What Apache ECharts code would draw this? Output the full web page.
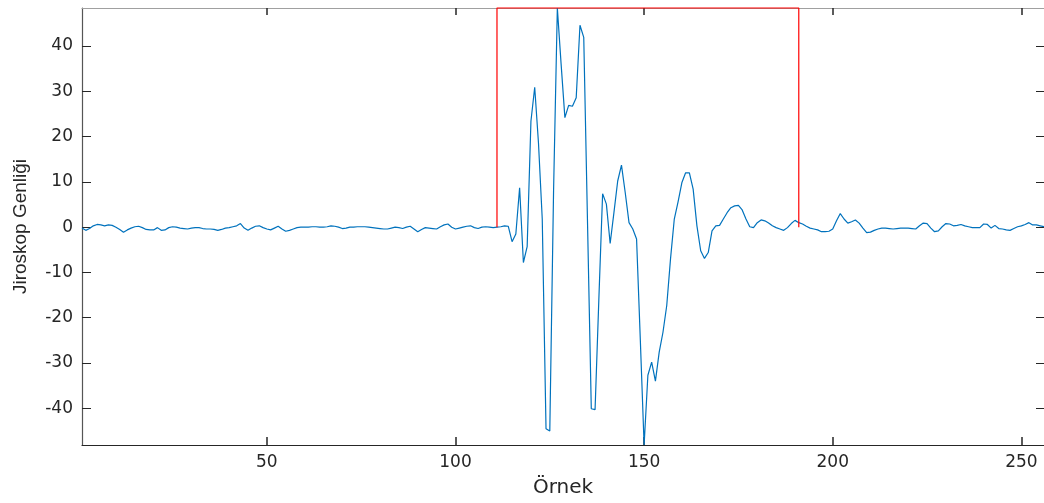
<!DOCTYPE html>
<html>
<head>
<meta charset="utf-8">
<script src="https://cdn.jsdelivr.net/npm/echarts@6/dist/echarts.min.js"></script>
<style>
  html, body { margin: 0; padding: 0; background: #fff; }
  #chart { width: 1044px; height: 503px; }
</style>
</head>
<body>
<div id="chart"></div>
<script>
// gyro samples 1..256
const gyro = [
  -0.2, -0.7, -0.3, 0.3, 0.6, 0.5, 0.3, 0.5, 0.4, 0.0,
  -0.5, -1.1, -0.6, -0.2, 0.1, 0.2, -0.1, -0.5, -0.6, -0.6,
  -0.1, -0.7, -0.6, -0.1, 0.1, 0.0, -0.2, -0.3, -0.4, -0.2,
  -0.1, -0.1, -0.3, -0.4, -0.4, -0.5, -0.7, -0.5, -0.2, -0.1,
  0.1, 0.3, 0.8, -0.2, -0.7, -0.2, 0.2, 0.3, -0.1, -0.4,
  -0.6, -0.2, 0.2, -0.4, -0.9, -0.7, -0.4, -0.1, 0.0, 0.0,
  0.0, 0.1, 0.1, 0.0, 0.0, 0.1, 0.3, 0.2, 0.0, -0.3,
  -0.2, 0.0, 0.0, 0.1, 0.1, 0.1, 0.0, -0.1, -0.2, -0.3,
  -0.4, -0.4, -0.2, 0.0, -0.1, -0.3, 0.0, 0.2, -0.4, -1.0,
  -0.5, -0.1, -0.2, -0.3, -0.4, 0.1, 0.5, 0.7, 0.0, -0.4,
  -0.2, 0.0, 0.2, 0.3, -0.1, -0.3, 0.0, 0.1, 0.0, -0.1,
  0.0, 0.1, 0.3, 0.2, -3.2, -1.5, 8.7, -7.8, -4.3, 23.4,
  30.9, 18.6, 1.8, -44.5, -45.0, 8.0, 48.4, 36.0, 24.2, 26.9,
  26.7, 28.6, 44.6, 41.9, 1.0, -40.1, -40.3, -16.0, 7.4, 5.1,
  -3.6, 3.2, 10.2, 13.7, 7.6, 1.0, -0.4, -2.6, -25.0, -48.1,
  -32.7, -29.8, -34.0, -27.6, -23.2, -17.3, -7.0, 1.8, 5.6, 9.8,
  12.0, 12.0, 8.4, 0.3, -5.2, -6.9, -5.6, -0.8, 0.3, 0.4,
  1.8, 3.2, 4.3, 4.7, 4.8, 3.8, 1.8, 0.1, -0.1, 1.0,
  1.6, 1.4, 0.9, 0.3, -0.1, -0.4, -0.7, -0.1, 0.8, 1.5,
  1.0, 0.7, 0.2, -0.2, -0.4, -0.6, -1.0, -1.0, -0.9, -0.4,
  1.4, 3.0, 1.8, 0.9, 1.2, 1.6, 0.9, -0.2, -1.2, -1.1,
  -0.7, -0.4, -0.2, -0.2, -0.3, -0.4, -0.3, -0.2, -0.2, -0.2,
  -0.3, -0.4, 0.3, 0.9, 0.8, -0.2, -1.0, -0.8, 0.1, 0.8,
  0.7, 0.3, 0.4, 0.6, 0.3, 0.1, -0.1, -0.1, -0.1, 0.7,
  0.6, -0.2, 0.4, -0.3, -0.4, -0.6, -0.7, -0.3, 0.1, 0.3,
  0.6, 1.0, 0.5, 0.5, 0.3, 0.1
];
const xTicks = [50, 100, 150, 200, 250];
const yTicks = [-40, -30, -20, -10, 0, 10, 20, 30, 40];
const windowStart = 111;
const windowEnd = 191;
const xMin = 1, xMax = 256;
const yMin = -48.1, yMax = 48.4;

const chart = echarts.init(document.getElementById('chart'), null, { renderer: 'canvas' });

const lineData = gyro.map((v, i) => [i + 1, v]);
const boxData = [[windowStart, 0], [windowStart, yMax], [windowEnd, yMax], [windowEnd, 0]];

const tickFont = { fontFamily: 'DejaVu Sans', fontSize: 17, color: '#262626' };

const option = {
  animation: false,
  grid: { left: 82, top: 8, width: 963, height: 438, containLabel: false },
  xAxis: [
    {
      type: 'value', min: xMin, max: xMax, position: 'bottom',
      name: 'Örnek', nameLocation: 'middle', nameGap: 33,
      nameTextStyle: { fontFamily: 'DejaVu Sans', fontSize: 20, color: '#262626' },
      axisLine: { show: true, onZero: false, lineStyle: { color: '#262626', width: 1.2 } },
      axisTick: { show: true, inside: true, length: 8, customValues: xTicks, lineStyle: { color: '#262626', width: 1.5 } },
      axisLabel: { show: true, customValues: xTicks, margin: 9, ...tickFont },
      splitLine: { show: false }
    },
    {
      type: 'value', min: xMin, max: xMax, position: 'top',
      axisLine: { show: true, onZero: false, lineStyle: { color: '#a0a0a0', width: 1.2 } },
      axisTick: { show: true, inside: true, length: 7, customValues: xTicks, lineStyle: { color: '#262626', width: 1.5 } },
      axisLabel: { show: false },
      splitLine: { show: false }
    }
  ],
  yAxis: [
    {
      type: 'value', min: yMin, max: yMax, position: 'left',
      name: 'Jiroskop Genliği', nameLocation: 'middle', nameGap: 52, nameRotate: 90,
      nameTextStyle: { fontFamily: 'Liberation Sans', fontSize: 19, color: '#262626' },
      axisLine: { show: true, onZero: false, lineStyle: { color: '#555', width: 1.2 } },
      axisTick: { show: true, inside: true, length: 9, customValues: yTicks, lineStyle: { color: '#262626', width: 1 } },
      axisLabel: { show: true, customValues: yTicks, margin: 9, ...tickFont },
      splitLine: { show: false }
    },
    {
      type: 'value', min: yMin, max: yMax, position: 'right',
      axisLine: { show: false, onZero: false },
      axisTick: { show: true, inside: true, length: 8, customValues: yTicks, lineStyle: { color: '#262626', width: 1 } },
      axisLabel: { show: false },
      splitLine: { show: false }
    }
  ],
  series: [
    {
      type: 'line', data: lineData, xAxisIndex: 0, yAxisIndex: 0,
      showSymbol: false, lineStyle: { color: '#0072BD', width: 1.2 }, clip: true, z: 3
    },
    {
      type: 'line', data: boxData, xAxisIndex: 0, yAxisIndex: 0,
      showSymbol: false, lineStyle: { color: '#FF0000', width: 1.2 }, clip: false, z: 4
    }
  ]
};

chart.setOption(option);
</script>
</body>
</html>
